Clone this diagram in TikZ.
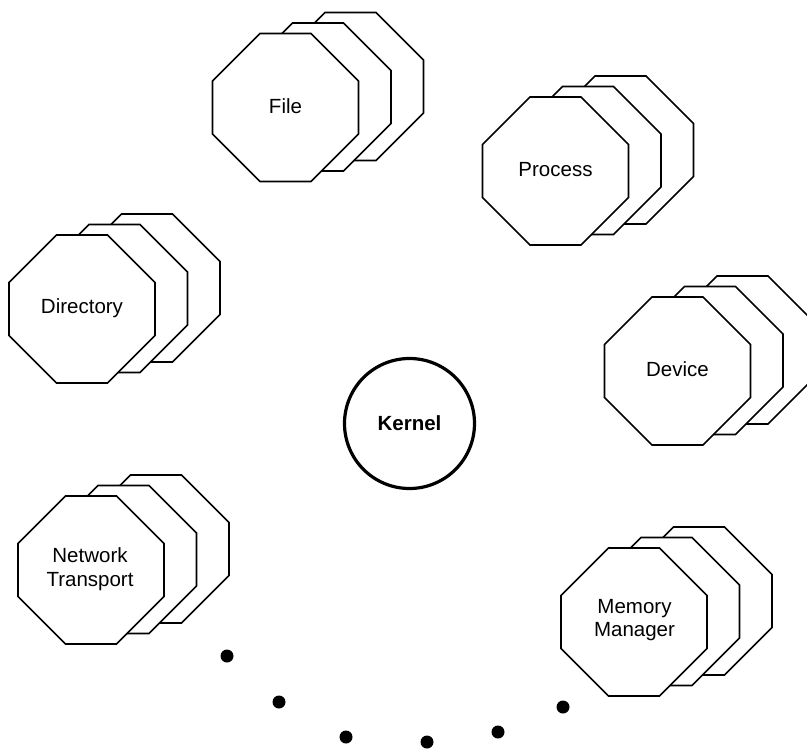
\documentclass[tikz,border=0pt]{standalone}
\usepackage{fontspec}
\setmainfont{Liberation Sans}
\begin{document}
\begin{tikzpicture}[x=1pt,y=-1pt,
  octline/.style={draw=black,fill=white,line width=1.7pt,line join=miter},
  oct/.pic={\path[octline] (-25.5,-74) -- (25.5,-74) -- (73,-26.5) -- (73,26.5)
      -- (25.5,74) -- (-25.5,74) -- (-73,26.5) -- (-73,-26.5) -- cycle;},
  octstack/.pic={
    \pic at (65,-21) {oct};
    \pic at (32.5,-10.5) {oct};
    \pic at (0,0) {oct};},
  label/.style={font=\fontsize{20.5}{23.5}\selectfont,align=center,inner sep=0pt},
  kernelnode/.style={circle,draw=black,line width=3.2pt,minimum size=130pt,
      font=\fontsize{20.5}{24}\selectfont\bfseries},
  bullet/.style={circle,fill=black,inner sep=0pt,minimum size=13pt}
]
\useasboundingbox (0,0) rectangle (807,750);
\clip (0,0) rectangle (807,750);

% server stacks (three layered octagons each)
\pic at (285.5,107.5) {octstack};
\pic at (555.5,171) {octstack};
\pic at (82,309) {octstack};
\pic at (677.5,371) {octstack};
\pic at (91,570) {octstack};
\pic at (634,622) {octstack};

\node[label] (file) at (285.5,106) {File};
\node[label] (process) at (555.5,170) {Process};
\node[label] (directory) at (82,308) {Directory};
\node[label] (device) at (677.5,369) {Device};
\node[label] (network) at (90,569) {Network\\Transport};
\node[label] (memory) at (634.5,620) {Memory\\Manager};

% microkernel
\node[kernelnode] (kernel) at (409.5,423.5) {Kernel};

% ellipsis of further servers
\node[bullet] (d1) at (227,656) {};
\node[bullet] (d2) at (279,702) {};
\node[bullet] (d3) at (346,737) {};
\node[bullet] (d4) at (427,742) {};
\node[bullet] (d5) at (498,732) {};
\node[bullet] (d6) at (563,707) {};
\end{tikzpicture}
\end{document}
